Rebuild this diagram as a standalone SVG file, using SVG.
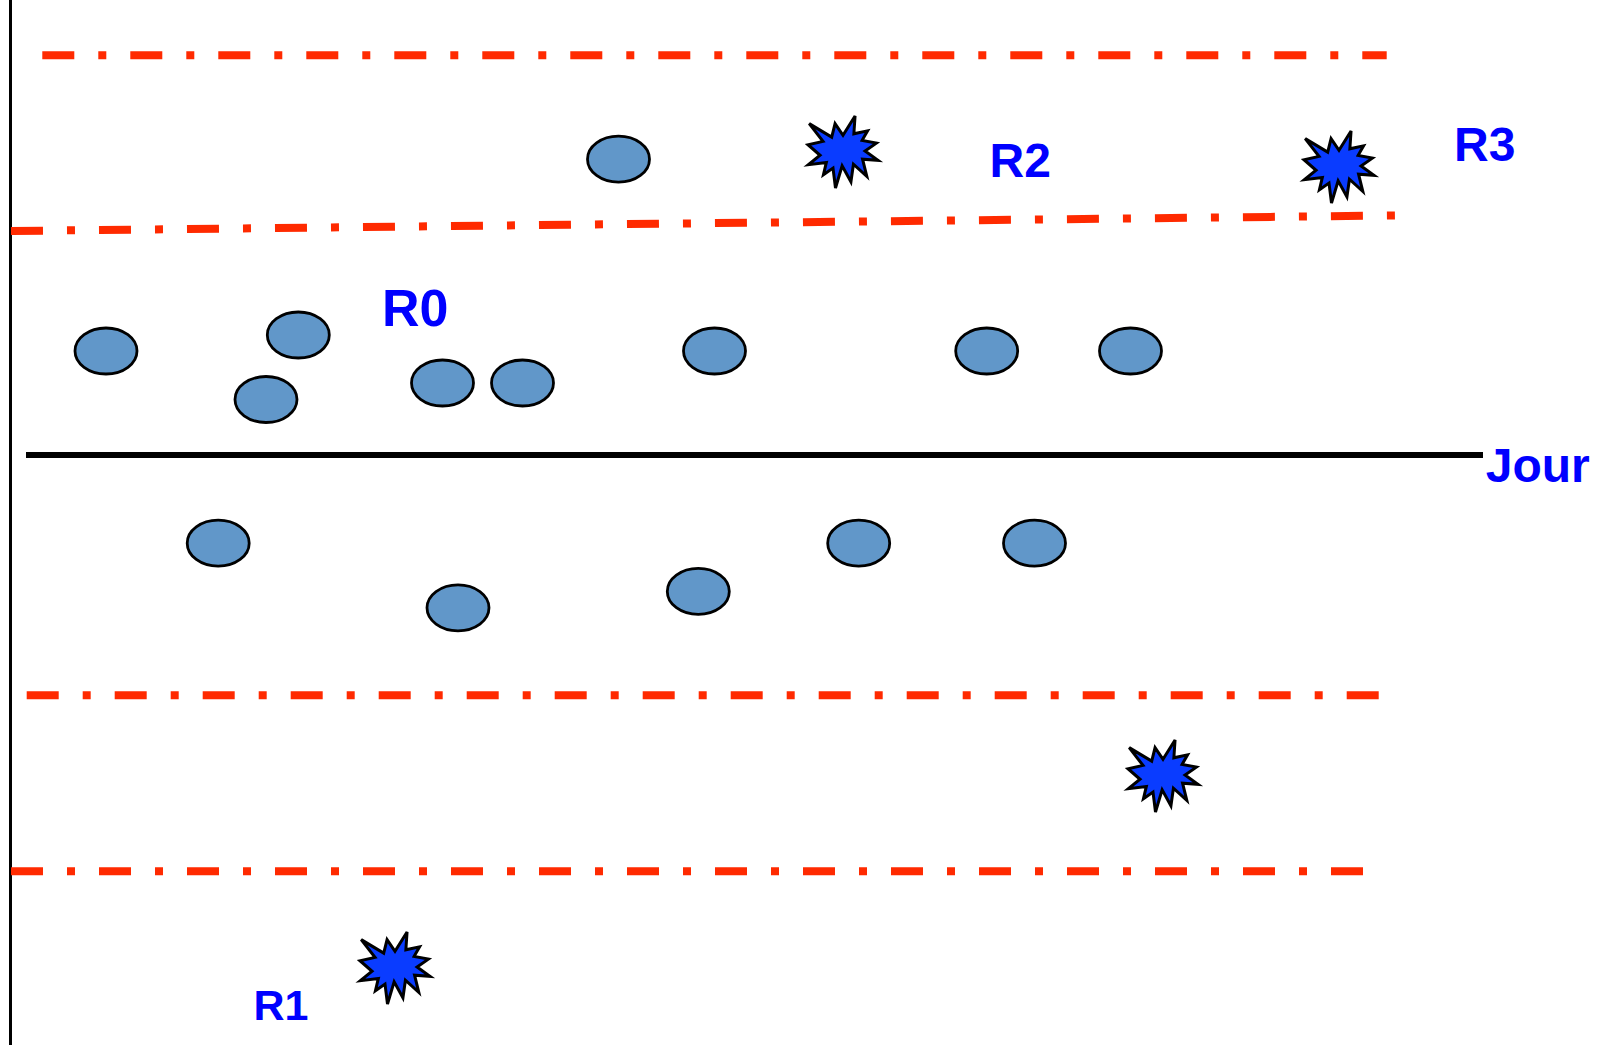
<svg xmlns="http://www.w3.org/2000/svg" width="1607" height="1045" viewBox="0 0 1607 1045">
  <style>
    .band { fill: none; stroke: #FF2A00; stroke-width: 8; stroke-dasharray: 32 24 8 24; stroke-linecap: butt; }
    .axis { stroke: #000000; fill: none; }
    .dot { fill: #6197C9; stroke: #000000; stroke-width: 2.8; }
    .burst { fill: #0A3CFF; stroke: #000000; stroke-width: 3; stroke-linejoin: miter; }
    .label { font-family: "Liberation Sans", Arial, sans-serif; font-weight: bold; fill: #0000FF; }
  </style>
  <defs>
    <!-- explosion shape, 70 x 72 box -->
    <polygon id="burst" class="burst" points="35,19.33 47.06,0 45.87,17.75 59.56,14.86 54.13,24.38 68.37,27.12 57.06,34.92 70,44.3 54.56,43.14 58.8,60.32 45.43,48.19 42.93,65.79 34.13,49.78 27.5,72 25,52.09 15.43,58.72 18.36,46.46 0.44,48.62 12.06,39.25 0,28.72 14.99,25.39 1.2,7.65 23.7,21.07 27.07,7.65"/>
  </defs>

  <rect width="1607" height="1045" fill="#FFFFFF"/>

  <!-- axes -->
  <g id="axes">
    <line class="axis" x1="10.5" y1="0" x2="10.5" y2="1045" stroke-width="3"/>
    <line class="axis" x1="26" y1="455" x2="1483" y2="455" stroke-width="6"/>
  </g>

  <!-- range boundaries -->
  <g id="bands">
    <line class="band" x1="42.3" y1="55.3" x2="1386.7" y2="55.3"/>
    <line class="band" x1="11" y1="231" x2="1395" y2="215.5"/>
    <line class="band" x1="26.7" y1="695.3" x2="1379" y2="695.3"/>
    <line class="band" x1="11" y1="871.3" x2="1363" y2="871.3"/>
  </g>

  <!-- daily observations -->
  <g id="dots">
    <ellipse id="d01" class="dot" cx="618.5" cy="159.2" rx="31" ry="23"/>
    <ellipse id="d02" class="dot" cx="106" cy="351" rx="31" ry="23"/>
    <ellipse id="d03" class="dot" cx="298.3" cy="335" rx="31" ry="23"/>
    <ellipse id="d04" class="dot" cx="266" cy="399.5" rx="31" ry="23"/>
    <ellipse id="d05" class="dot" cx="442.5" cy="383" rx="31" ry="23"/>
    <ellipse id="d06" class="dot" cx="522.5" cy="383" rx="31" ry="23"/>
    <ellipse id="d07" class="dot" cx="714.5" cy="351" rx="31" ry="23"/>
    <ellipse id="d08" class="dot" cx="986.7" cy="351" rx="31" ry="23"/>
    <ellipse id="d09" class="dot" cx="1130.5" cy="351" rx="31" ry="23"/>
    <ellipse id="d10" class="dot" cx="218.2" cy="543.2" rx="31" ry="23"/>
    <ellipse id="d11" class="dot" cx="458" cy="607.8" rx="31" ry="23"/>
    <ellipse id="d12" class="dot" cx="698.3" cy="591.4" rx="31" ry="23"/>
    <ellipse id="d13" class="dot" cx="858.7" cy="543.2" rx="31" ry="23"/>
    <ellipse id="d14" class="dot" cx="1034.5" cy="543.2" rx="31" ry="23"/>
  </g>

  <!-- outliers -->
  <g id="bursts">
    <use id="b1" href="#burst" transform="translate(808,116)"/>
    <use id="b2" href="#burst" transform="translate(1304,131)"/>
    <use id="b3" href="#burst" transform="translate(1128,740)"/>
    <use id="b4" href="#burst" transform="translate(360,932)"/>
  </g>

  <!-- labels -->
  <g id="labels">
    <text id="t-r0" class="label" x="382" y="326" font-size="52">R0</text>
    <text id="t-r1" class="label" x="253.5" y="1019.5" font-size="43">R1</text>
    <text id="t-r2" class="label" x="989.5" y="177" font-size="48">R2</text>
    <text id="t-r3" class="label" x="1454" y="160.7" font-size="48">R3</text>
    <text id="t-jour" class="label" x="1485.7" y="481.7" font-size="48">Jour</text>
  </g>
</svg>
